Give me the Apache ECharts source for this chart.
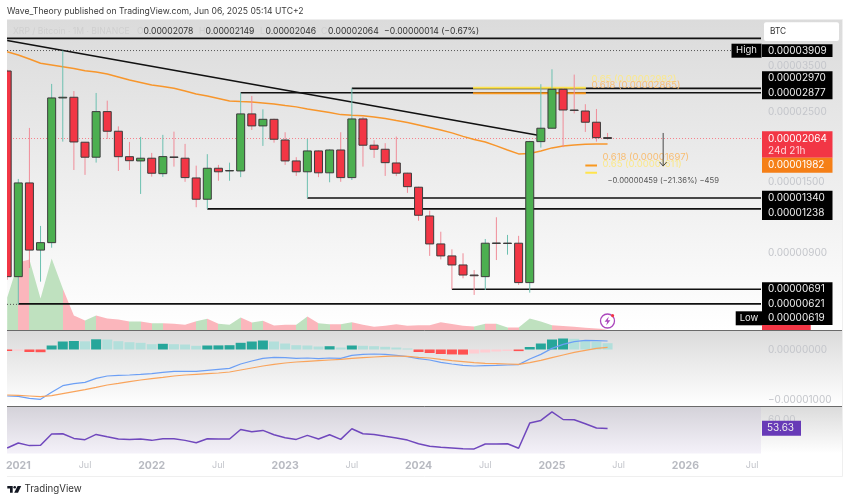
<!DOCTYPE html>
<html>
<head>
<meta charset="utf-8">
<style>
html, body { margin: 0; padding: 0; background: #fff; }
#chart { width: 850px; height: 502px; filter: blur(0.35px); }
</style>
<script src="https://cdn.jsdelivr.net/npm/echarts@6/dist/echarts.min.js"></script>
</head>
<body>
<div id="chart"></div>
<script>
// all prices are in satoshi (1e-8 BTC), index -1 = Dec 2020, 0 = Jan 2021
const candleOpen = [3370,757,1495,918,969,2771,2785,2009,1802,2509,2176,1809,1754,1789,1599,1806,1789,1550,1328,1663,1631,1631,2468,2262,2373,2042,1754,1621,1886,1609,1899,1554,2379,1966,1909,1728,1605,1449,1176,960,880,824,766,757,967,963,965,725,2018,2224,2950,2539,2520,2323,2078];
const candleClose = [757,1495,918,969,2771,2785,2013,1802,2509,2176,1809,1757,1789,1604,1810,1798,1554,1328,1663,1621,1636,2468,2262,2373,2053,1754,1621,1886,1609,1899,1554,2379,1966,1909,1732,1605,1455,1182,960,880,824,766,762,965,963,966,725,2018,2224,2950,2539,2530,2323,2077,2064];
const candleLow = [740,619,806,730,934,2018,1642,1585,1733,2057,1630,1642,1380,1565,1562,1683,1507,1253,1238,1519,1519,1559,2196,1956,2003,1704,1573,1340,1559,1502,1507,1527,1683,1793,1573,1571,1391,1136,880,858,691,748,663,687,854,888,713,674,1932,2220,1938,2477,2165,2018,2046];
const candleHigh = [3400,1539,2229,1094,3068,3909,2914,2013,2873,2717,2254,2013,2088,1859,2119,2170,1985,1695,1842,1704,1732,2877,2812,2552,2385,2160,1802,2057,1895,1909,2160,2970,2414,2038,1995,2093,1610,1455,1222,1049,923,897,794,995,1165,1025,1018,2030,3062,3412,2979,3283,2648,2558,2149];
const emaLine = [3878,3787,3677,3566,3522,3478,3432,3377,3347,3299,3228,3157,3101,3046,3013,2973,2914,2853,2812,2761,2711,2701,2692,2673,2654,2625,2597,2558,2527,2494,2455,2444,2435,2414,2388,2353,2320,2278,2237,2196,2150,2096,2050,2013,1956,1899,1846,1852,1886,1928,1956,1970,1980,1985,1982];
const volume = [33,68,71,32,72,42,15,10,15,12,11,9,9,7.3,7.3,6.7,5.7,9.3,11.7,6.7,5.7,13,8,9.7,5,5.7,5.7,14,7.3,6.3,6.3,8.3,5.7,3.7,4.7,6.3,4.7,5.3,5.3,8.3,6.5,4.7,4,6.7,6.7,3,3,12,9,5.3,4.5,3.7,2.8,2,1.3];
const macdHist = [-30,-24,-50,-54,80,160,170,164,204,200,166,146,134,106,114,106,100,74,80,82,86,134,160,180,160,120,86,80,60,66,40,80,74,66,54,40,20,-50,-70,-90,-98,-102,-80,-60,-40,-30,-32,50,120,200,220,214,180,160,126];
const macdLine = [-930,-937,-977,-997,-857,-723,-683,-657,-577,-530,-517,-510,-497,-483,-457,-437,-437,-437,-417,-397,-377,-290,-230,-177,-157,-163,-177,-170,-183,-170,-177,-117,-97,-90,-97,-117,-143,-183,-210,-257,-290,-317,-330,-323,-317,-310,-303,-190,-97,23,103,157,183,177,170];
const macdSignal = [-910,-917,-930,-943,-923,-883,-843,-803,-757,-710,-677,-643,-610,-583,-557,-530,-510,-497,-483,-470,-450,-410,-370,-330,-297,-270,-250,-237,-223,-210,-197,-177,-163,-150,-137,-130,-137,-157,-170,-197,-223,-243,-263,-277,-283,-290,-297,-263,-217,-163,-110,-57,-17,23,43];
const rsiLine = [39.6,43.2,41.3,41.5,49.7,49.9,46.5,45.6,49.4,47.7,46.1,45.8,46.1,45.1,46.3,46.3,45.1,43.4,46.3,46.1,46.1,53.0,51.3,52.3,49.2,47.0,45.8,48.7,46.1,49.2,45.8,53.5,49.9,49.4,48.0,46.8,45.3,42.7,40.8,40.1,39.6,39.1,38.9,42.5,42.5,42.7,39.4,57.6,59.5,65.7,60.2,60.0,57.1,54.0,53.63];

// horizontal levels, each starts at a candle and runs to the right edge
const levelPrices = [2970, 2877, 1340, 1238, 691, 621];
const levelStarts = [30, 20, 26, 17, 39, 0];
const topLinePrice = 4271;
const highPrice = 3909;
const lowPrice = 619;
const lastPrice = 2064;
const emaPrice = 1982;
const trendMonths = [-1, 47];
const trendPrices = [4206, 2107];

// fib boxes: from month, to month, price, ratio
const fibRatios = ['0.65', '0.618', '0.618', '0.65'];
const fibPrices = [2982, 2865, 1697, 1611];
const fibFrom = [40.9, 40.9, 51, 51];
const fibTo = [51.05, 51.05, 52.05, 52.05];

// measure arrow
const arrowMonth = 58;
const arrowPrices = [2149, 1690];
const arrowLabel = '\u22120.00000459 (\u221221.36%) \u2212459';

// axis labels
const priceTicks = [3500, 2500, 1500, 900];
const macdTicks = [0, -1000];
const rsiTicks = [60];
const timeTicks = [0, 6, 12, 18, 24, 30, 36, 42, 48, 54, 60, 66];
const timeLabels = ['2021', 'Jul', '2022', 'Jul', '2023', 'Jul', '2024', 'Jul', '2025', 'Jul', '2026', 'Jul'];
const legendValues = [2078, 2149, 2046, 2064];

const FONT = 'Inter';
const xMin = -1.0162, xMax = 66.8;
const upColor = '#4caf50', downColor = '#f23645';
const upWick = '#6cc0b0', downWick = '#f08c98';

function fmt(v) {
    return (v < 0 ? '\u2212' : '') + (Math.abs(v) * 1e-8).toFixed(8);
}
function rows() {
    // pair every value with its month index
    let cols = Array.from(arguments);
    return cols[0].map(function (_, k) {
        return [k - 1].concat(cols.map(function (c) { return c[k]; }));
    });
}

function renderCandle(params, api) {
    let m = api.value(0);
    let pO = api.coord([m, api.value(1)]), pC = api.coord([m, api.value(2)]);
    let pL = api.coord([m, api.value(3)]), pH = api.coord([m, api.value(4)]);
    let up = api.value(2) >= api.value(1);
    let top = Math.min(pO[1], pC[1]), bot = Math.max(pO[1], pC[1]);
    let x = pO[0];
    return {
        type: 'group',
        children: [
            { type: 'line', shape: { x1: x, y1: pH[1], x2: x, y2: pL[1] }, style: { stroke: up ? upWick : downWick, lineWidth: 1 } },
            { type: 'rect', shape: { x: x - 4, y: top, width: 8, height: Math.max(bot - top, 0.4) },
              style: { fill: up ? upColor : downColor, stroke: '#3c3c3c', lineWidth: 1 } }
        ]
    };
}

function renderFib(params, api) {
    let k = params.dataIndex;
    let a = api.coord([api.value(0), api.value(2)]), b = api.coord([api.value(1), api.value(2)]);
    let col = fibRatios[k] === '0.65' ? '#ffe44d' : '#f9981e';
    let textCol = fibRatios[k] === '0.65' ? '#fbe88a' : '#f8bd72';
    return {
        type: 'group',
        children: [
            { type: 'line', shape: { x1: a[0], y1: a[1], x2: b[0], y2: b[1] }, style: { stroke: col, lineWidth: 2 } },
            { type: 'text', x: b[0] + 5.5, y: a[1] - 8.5,
              style: { text: fibRatios[k] + ' (' + fmt(fibPrices[k]) + ')', fill: textCol, font: '9.5px ' + FONT, textVerticalAlign: 'middle' } }
        ]
    };
}

function renderArrow(params, api) {
    let a = api.coord([arrowMonth, arrowPrices[0]]), b = api.coord([arrowMonth, arrowPrices[1]]);
    return {
        type: 'group',
        children: [
            { type: 'line', shape: { x1: a[0], y1: a[1], x2: b[0], y2: b[1] }, style: { stroke: '#4a4a4a', lineWidth: 1 } },
            { type: 'polyline', shape: { points: [[b[0] - 3.5, b[1] - 4], [b[0], b[1]], [b[0] + 3.5, b[1] - 4]] }, style: { stroke: '#4a4a4a', fill: null, lineWidth: 1 } },
            { type: 'text', x: b[0], y: b[1] + 15,
              style: { text: arrowLabel, fill: '#555', font: '7.7px ' + FONT, textAlign: 'center', textVerticalAlign: 'middle' } }
        ]
    };
}

// volume area coloured per segment by the candle it leads to
let volStops = [];
for (let k = 1; k < volume.length; k++) {
    let c = candleClose[k] >= candleOpen[k] ? '#bfe1bf' : '#fbb6bc';
    volStops.push({ offset: (k - 1) / (volume.length - 1), color: c });
    volStops.push({ offset: k / (volume.length - 1), color: c });
}

// macd bars take the dark shade while they keep growing away from zero
function histColor(k) {
    let v = macdHist[k], p = k > 0 ? macdHist[k - 1] : 0;
    if (v >= 0) return v >= p ? '#26a69a' : '#b2dfdb';
    return v <= p ? '#ff5252' : '#ffcdd2';
}
function renderHist(params, api) {
    let m = api.value(0);
    let z = api.coord([m, 0]), t = api.coord([m, api.value(1)]);
    return {
        type: 'rect',
        shape: { x: z[0] - 5, y: Math.min(z[1], t[1]), width: 10, height: Math.abs(z[1] - t[1]) },
        style: { fill: histColor(params.dataIndex) }
    };
}

function hLine(name, pts, color, width, type) {
    return {
        name: name, type: 'line', xAxisIndex: 0, yAxisIndex: 0, data: pts, symbol: 'none', silent: true, z: 3,
        lineStyle: { color: color, width: width, type: type || 'solid' }
    };
}

let series = [
    {
        name: 'Volume', type: 'line', xAxisIndex: 0, yAxisIndex: 1, data: rows(volume), symbol: 'none', silent: true, z: 1,
        lineStyle: { width: 0 },
        areaStyle: { opacity: 1, color: new echarts.graphic.LinearGradient(0, 0, 1, 0, volStops) }
    },
    hLine('Top', [[xMin, topLinePrice], [xMax, topLinePrice]], '#111', 1.6),
    hLine('High', [[xMin, highPrice], [64.2, highPrice]], '#555', 1, [1, 2]),
    hLine('Low', [[xMin, lowPrice], [0, lowPrice]], '#555', 1, [1, 2]),
    hLine('Last', [[xMin, lastPrice], [xMax, lastPrice]], '#f5828c', 1, [1, 2]),
    hLine('Trend', [[trendMonths[0], trendPrices[0]], [trendMonths[1], trendPrices[1]]], '#111', 1.6),
    { name: 'EMA', type: 'line', xAxisIndex: 0, yAxisIndex: 0, data: rows(emaLine), symbol: 'none', silent: true, z: 3,
      lineStyle: { color: '#f7962c', width: 1.5 } }
];
levelPrices.forEach(function (p, k) {
    series.push(hLine('Level ' + p, [[levelStarts[k], p], [xMax, p]], '#111', 1.6));
});
series.push(
    { name: 'Fib', type: 'custom', xAxisIndex: 0, yAxisIndex: 0, renderItem: renderFib, silent: true, z: 4, clip: true,
      data: fibPrices.map(function (p, k) { return [fibFrom[k], fibTo[k], p]; }), encode: { x: [0, 1], y: 2 } },
    { name: 'Candles', type: 'custom', xAxisIndex: 0, yAxisIndex: 0, renderItem: renderCandle, silent: true, z: 5, clip: true,
      data: rows(candleOpen, candleClose, candleLow, candleHigh), encode: { x: 0, y: [1, 2, 3, 4] } },
    { name: 'Measure', type: 'custom', xAxisIndex: 0, yAxisIndex: 0, renderItem: renderArrow, silent: true, z: 6,
      data: [[arrowMonth, arrowPrices[0], arrowPrices[1]]], encode: { x: 0, y: [1, 2] } },
    { name: 'Histogram', type: 'custom', xAxisIndex: 1, yAxisIndex: 2, data: rows(macdHist), renderItem: renderHist, silent: true, z: 2, clip: true,
      encode: { x: 0, y: 1 } },
    { name: 'MACD', type: 'line', xAxisIndex: 1, yAxisIndex: 2, data: rows(macdLine), symbol: 'none', silent: true, z: 3,
      lineStyle: { color: '#6c9ff5', width: 1.2 } },
    { name: 'Signal', type: 'line', xAxisIndex: 1, yAxisIndex: 2, data: rows(macdSignal), symbol: 'none', silent: true, z: 3,
      lineStyle: { color: '#f9a45c', width: 1.2 } },
    { name: 'RSI', type: 'line', xAxisIndex: 2, yAxisIndex: 3, data: rows(rsiLine), symbol: 'none', silent: true, z: 3,
      lineStyle: { color: '#7048bd', width: 1.5 } }
);

function xAxisDef(gridIndex, withLabels) {
    return {
        type: 'value', gridIndex: gridIndex, min: xMin, max: xMax,
        axisLine: { show: false }, axisTick: { show: false }, splitLine: { show: false },
        axisLabel: withLabels ? {
            show: true, margin: 7, customValues: timeTicks, hideOverlap: false,
            formatter: function (v) {
                let s = timeLabels[timeTicks.indexOf(v)];
                return s === 'Jul' ? '{m|Jul}' : '{y|' + s + '}';
            },
            rich: {
                m: { fontFamily: FONT, fontSize: 9, color: '#c3c5cb' },
                y: { fontFamily: FONT, fontSize: 10.5, fontWeight: 700, color: '#b8bac1' }
            }
        } : { show: false }
    };
}
function yAxisDef(gridIndex, cfg, ticks, formatter) {
    return Object.assign({
        gridIndex: gridIndex, position: 'right',
        axisLine: { show: false }, axisTick: { show: false }, splitLine: { show: false },
        axisLabel: ticks ? {
            show: true, margin: 7, customValues: ticks, formatter: formatter, hideOverlap: false,
            fontFamily: FONT, fontSize: 10, color: '#c4c6cb', align: 'left'
        } : { show: false }
    }, cfg);
}

// ---- things drawn in page pixels: panels, price tags, header ----
function box(x, y, w, h, fill, z, r) {
    return { type: 'rect', z: z === undefined ? 20 : z, silent: true, shape: { x: x, y: y, width: w, height: h, r: r || 0 }, style: { fill: fill } };
}
function txt(x, y, s, color, size, align, weight) {
    return { type: 'text', z: 21, silent: true, x: x, y: y,
        style: { text: s, fill: color, font: (weight ? weight + ' ' : '') + size + 'px ' + FONT, textAlign: align || 'left', textVerticalAlign: 'middle' } };
}
function vGrad(c0, c1) {
    return new echarts.graphic.LinearGradient(0, 0, 0, 1, [{ offset: 0, color: c0 }, { offset: 1, color: c1 }]);
}
function rule(x1, y1, x2, y2, color) {
    return { type: 'line', z: 10, silent: true, shape: { x1: x1, y1: y1, x2: x2, y2: y2 }, style: { stroke: color, lineWidth: 1 } };
}
const tagX = 762, tagW = 70.5, tagText = 768, tagSize = 10;

let graphics = [
    // panel backgrounds
    box(7, 19.5, 835.5, 311, vGrad('#dbdbdb', '#ffffff'), -5),
    box(7, 331, 835.5, 75, vGrad('#dbdbdb', '#ffffff'), -5),
    box(761, 406.5, 81.5, 47, vGrad('#dbdbdb', '#ffffff'), -5),
    box(7, 406.5, 754, 47, vGrad('#d4d2d9', '#f4f1f9'), -5),
    rule(7, 330.5, 842.5, 330.5, '#6a6a6a'),
    rule(7, 406.5, 842.5, 406.5, '#6a6a6a'),
    rule(842.5, 19.5, 842.5, 476.5, '#efefef'),
    rule(7, 476.5, 842.5, 476.5, '#efefef'),

    // header
    txt(7, 11.5, 'Wave_Theory published on TradingView.com, Jun 06, 2025 05:14 UTC+2', '#3a3a3a', 8.6),
    txt(13, 31, 'XRP / Bitcoin \u00b7 1M \u00b7 BINANCE', '#cfcfcf', 8.6),
    txt(137, 31, 'O', '#cfcfcf', 8.6), txt(143.5, 31, fmt(legendValues[0]), '#333', 8.6),
    txt(199, 31, 'H', '#cfcfcf', 8.6), txt(205.5, 31, fmt(legendValues[1]), '#333', 8.6),
    txt(260, 31, 'L', '#cfcfcf', 8.6), txt(265.5, 31, fmt(legendValues[2]), '#333', 8.6),
    txt(321, 31, 'C', '#cfcfcf', 8.6), txt(328, 31, fmt(legendValues[3]), '#333', 8.6),
    txt(384, 31, '\u22120.00000014 (\u22120.67%)', '#333', 8.6),

    // price scale tags
    box(764, 22.3, 75, 18.7, '#ffffff', 20, 2), txt(770, 32, 'BTC', '#333', 8.3),
    box(731.5, 43.7, 30, 14, '#000'), txt(746.5, 50.5, 'High', '#e8e8e8', 9.5, 'center'),
    box(tagX, 44.3, tagW, 12.7, '#000'), txt(tagText, 50.7, fmt(highPrice), '#eee', tagSize),
    box(tagX, 71.3, tagW, 28, '#000'),
    txt(tagText, 78.3, fmt(levelPrices[0]), '#eee', tagSize), txt(tagText, 92.7, fmt(levelPrices[1]), '#eee', tagSize),
    box(tagX, 131.3, tagW, 26.4, '#f23645'),
    txt(tagText, 139, fmt(lastPrice), '#fff', tagSize), txt(tagText, 151, '24d 21h', '#ffd6da', tagSize),
    box(tagX, 157.7, tagW, 15, '#f57f17'), txt(tagText, 165, fmt(emaPrice), '#fff', tagSize),
    box(tagX, 190.7, tagW, 29.3, '#000'),
    txt(tagText, 198, fmt(levelPrices[2]), '#eee', tagSize), txt(tagText, 212.7, fmt(levelPrices[3]), '#eee', tagSize),
    box(tagX, 282.3, tagW, 42.7, '#000'),
    txt(tagText, 289, fmt(levelPrices[4]), '#eee', tagSize), txt(tagText, 304.3, fmt(levelPrices[5]), '#eee', tagSize),
    txt(tagText, 318.3, fmt(lowPrice), '#eee', tagSize),
    box(735.7, 311.3, 26.5, 14, '#000'), txt(749, 318.3, 'Low', '#e8e8e8', 9.5, 'center'),
    box(tagX, 325, 48.7, 5, '#f23645'),
    box(tagX, 420.7, 39, 15, '#673ab7'), txt(tagText - 1, 428.3, rsiLine[rsiLine.length - 1].toFixed(2), '#eee', tagSize),

    // flash icon near the last candle
    { type: 'circle', z: 20, silent: true, shape: { cx: 607.5, cy: 321, r: 7 }, style: { fill: '#fff', stroke: '#ab47bc', lineWidth: 1.3 } },
    { type: 'polygon', z: 21, silent: true, shape: { points: [[608.8, 316.6], [604.6, 321.8], [607.2, 321.8], [606.2, 325.4], [610.4, 320.2], [607.8, 320.2]] }, style: { fill: '#ab47bc' } },
    { type: 'circle', z: 21, silent: true, shape: { cx: 612.6, cy: 315.6, r: 1.6 }, style: { fill: '#f23645' } },

    // footer logo
    { type: 'polygon', z: 21, silent: true, shape: { points: [[7.3, 486], [12.7, 486], [12.7, 492.7], [10, 492.7], [10, 488.6], [7.3, 488.6]] }, style: { fill: '#131722' } },
    { type: 'circle', z: 21, silent: true, shape: { cx: 14.7, cy: 487.3, r: 1.3 }, style: { fill: '#131722' } },
    { type: 'polygon', z: 21, silent: true, shape: { points: [[17.6, 486], [21.2, 486], [18, 492.7], [14.2, 492.7]] }, style: { fill: '#131722' } },
    txt(24.5, 489.5, 'TradingView', '#333', 9.7)
];

let chart = echarts.init(document.getElementById('chart'));
chart.setOption({
    animation: false,
    backgroundColor: '#fff',
    textStyle: { fontFamily: FONT },
    graphic: { elements: graphics },
    grid: [
        { left: 7, right: 89, top: 19.5, height: 311 },
        { left: 7, right: 89, top: 331, height: 75 },
        { left: 7, right: 89, top: 406.5, height: 47 }
    ],
    xAxis: [xAxisDef(0, false), xAxisDef(1, false), xAxisDef(2, true)],
    yAxis: [
        yAxisDef(0, { type: 'log', min: 512, max: 4898 }, priceTicks, function (v) { return fmt(v); }),
        yAxisDef(0, { type: 'value', min: 0, max: 311 }),
        yAxisDef(1, { type: 'value', min: -1130, max: 370 }, macdTicks, function (v) { return fmt(v); }),
        yAxisDef(2, { type: 'value', min: 35.6, max: 69.6 }, rsiTicks, function (v) { return v.toFixed(2); })
    ],
    series: series
});
</script>
</body>
</html>
